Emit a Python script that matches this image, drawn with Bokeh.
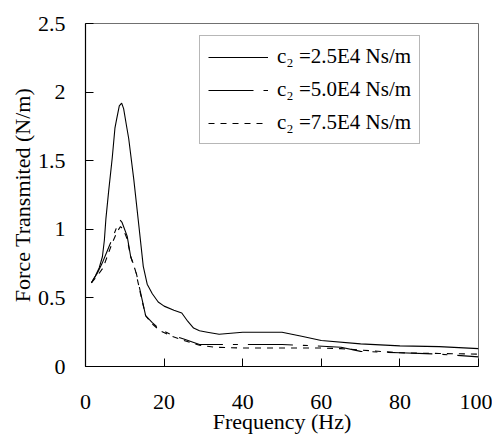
from bokeh.plotting import figure
from bokeh.models import (Legend, LegendItem, FixedTicker, CustomJSTickFormatter, Range1d)
from bokeh.embed import file_html
from bokeh.resources import INLINE

# ---- data ----
freq_a = [1.5, 2.5, 3.5, 4.3, 4.8, 5.2, 5.9, 6.8, 7.5, 7.9, 8.6, 9.2, 9.7, 10.4, 11.0,
          12.3, 13.6, 14.7, 15.7, 17.0, 18.5, 20.0, 22.5, 24.5, 26.0, 27.5, 29.0, 31.0,
          34.0, 40.0, 50.0, 55.0, 60.0, 70.0, 80.0, 90.0, 100.0]
force_a = [0.61, 0.66, 0.72, 0.80, 0.92, 1.08, 1.28, 1.52, 1.74, 1.80, 1.90, 1.92, 1.88,
           1.76, 1.66, 1.36, 1.02, 0.73, 0.60, 0.53, 0.47, 0.44, 0.41, 0.39, 0.33, 0.28,
           0.26, 0.25, 0.235, 0.25, 0.25, 0.22, 0.19, 0.165, 0.15, 0.145, 0.13]

freq_b = [1.5, 3.0, 4.2, 5.5, 6.8, 8.0, 8.7, 9.3, 10.6, 11.5, 12.7, 14.0, 15.3, 17.0,
          19.0, 22.0, 25.0, 29.0, 33.0, 40.0, 50.0, 59.0, 65.0, 70.0, 75.0, 80.0, 90.0, 100.0]
force_b = [0.61, 0.68, 0.75, 0.84, 0.93, 1.02, 1.07, 1.05, 0.95, 0.80, 0.71, 0.54, 0.37,
           0.32, 0.27, 0.23, 0.20, 0.16, 0.16, 0.16, 0.16, 0.15, 0.14, 0.11, 0.105, 0.10,
           0.09, 0.07]

freq_c = [1.5, 3.0, 4.5, 5.5, 6.8, 8.0, 8.9, 9.6, 10.6, 11.5, 12.7, 14.0, 15.3, 17.0,
          19.0, 22.0, 25.0, 29.0, 33.0, 40.0, 50.0, 60.0, 65.0, 70.0, 80.0, 90.0, 100.0]
force_c = [0.61, 0.66, 0.72, 0.80, 0.90, 0.98, 1.02, 1.00, 0.93, 0.80, 0.70, 0.53, 0.37,
           0.31, 0.26, 0.22, 0.19, 0.155, 0.14, 0.135, 0.135, 0.135, 0.13, 0.12, 0.10,
           0.095, 0.09]

labels = ["c\u2082 =2.5E4 Ns/m", "c\u2082 =5.0E4 Ns/m", "c\u2082 =7.5E4 Ns/m"]
x_ticks = [0, 20, 40, 60, 80, 100]
y_ticks = [0, 0.5, 1, 1.5, 2, 2.5]

FONT = "Liberation Serif"

p = figure(frame_width=393, frame_height=343, output_backend="svg", toolbar_location=None,
           x_range=Range1d(0, 100), y_range=Range1d(0, 2.5),
           min_border_left=71, min_border_right=14, min_border_top=23, min_border_bottom=60,
           background_fill_color="white", border_fill_color="white")
p.margin = (0, 0, 0, 6)
p.grid.visible = False
p.outline_line_color = "#707070"
p.outline_line_width = 1

r1 = p.line(freq_a, force_a, line_color="black", line_width=1.1)
r2 = p.line(freq_b, force_b, line_color="black", line_width=1.1, line_dash="45 10 5 10")
r3 = p.line(freq_c, force_c, line_color="black", line_width=1.1, line_dash="6 6")

for ax in (p.xaxis[0], p.yaxis[0]):
    ax.axis_line_color = "black"
    ax.axis_line_width = 1.2
    ax.major_tick_in = 8
    ax.major_tick_out = 0
    ax.minor_tick_line_color = None
    ax.major_tick_line_color = "black"
    ax.major_label_text_font = FONT
    ax.major_label_text_font_size = "22px"
    ax.major_label_text_color = "black"
    ax.axis_label_text_font = FONT
    ax.axis_label_text_font_size = "22px"
    ax.axis_label_text_font_style = "normal"
    ax.axis_label_text_color = "black"

p.xaxis.ticker = FixedTicker(ticks=x_ticks)
p.yaxis.ticker = FixedTicker(ticks=y_ticks)
p.yaxis.formatter = CustomJSTickFormatter(code="return String(tick);")
p.xaxis.formatter = CustomJSTickFormatter(code="return String(tick);")
p.xaxis.axis_label = "Frequency (Hz)"
p.yaxis.axis_label = "Force Transmited (N/m)"
p.xaxis.major_label_standoff = 28
p.yaxis.major_label_standoff = 20
p.xaxis.axis_label_standoff = -3
p.yaxis.axis_label_standoff = 0

legend = Legend(items=[LegendItem(label=labels[0], renderers=[r1]),
                       LegendItem(label=labels[1], renderers=[r2]),
                       LegendItem(label=labels[2], renderers=[r3])],
                location=(114, 222))
legend.glyph_width = 60
legend.glyph_height = 22
legend.label_standoff = 9
legend.spacing = 8
legend.padding = 8
legend.margin = 0
legend.label_text_font = FONT
legend.label_text_font_size = "21px"
legend.label_text_color = "black"
legend.border_line_color = "#707070"
legend.border_line_width = 1
legend.background_fill_alpha = 1
p.add_layout(legend, "center")

open("out.html", "w").write(file_html(p, INLINE))
